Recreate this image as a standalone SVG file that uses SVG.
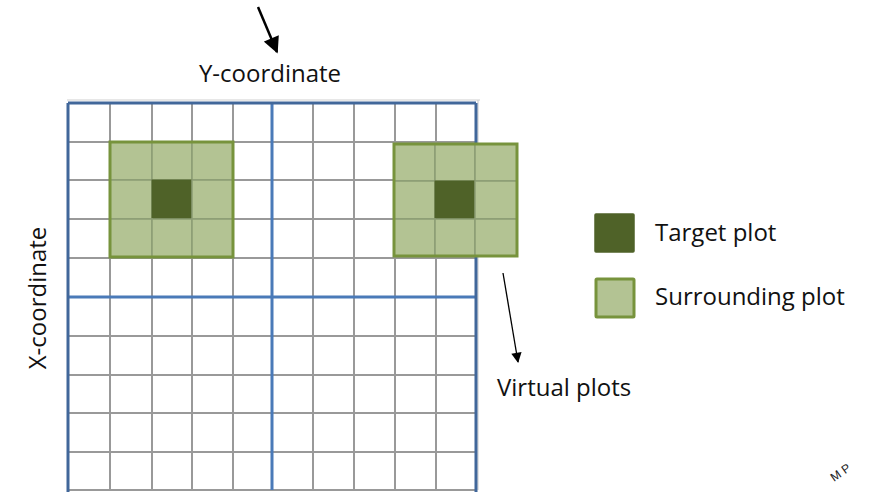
<svg xmlns="http://www.w3.org/2000/svg" width="871" height="492" viewBox="0 0 871 492">
<style>
  .g{stroke:#999;stroke-width:2;fill:none}
  .b{stroke:#4a7ab8;stroke-width:3;fill:none}
  .bo{stroke:#41679a;stroke-width:3;fill:none}
  .t{font-family:"Open Sans","Liberation Sans",sans-serif;font-size:24px;fill:#111}
  .sur{fill:#b3c393;stroke:#8c9d74;stroke-width:1.5}
  .tar{fill:#4f6228;stroke:#4f6228;stroke-width:1}
  .frame{fill:none;stroke:#77933c;stroke-width:3}
</style>
<defs>
  <marker id="ah" viewBox="0 0 10 10" refX="9" refY="5" markerWidth="7" markerHeight="6.5" orient="auto" markerUnits="strokeWidth">
    <path d="M0,0 L10,5 L0,10 z" fill="#000"/>
  </marker>
  <marker id="ah2" viewBox="0 0 10 10" refX="9" refY="5" markerWidth="9" markerHeight="8" orient="auto" markerUnits="strokeWidth">
    <path d="M0,0 L10,5 L0,10 z" fill="#000"/>
  </marker>
</defs>
<g id="grid">
  <path d="M67,100 H480 M478,100 V490" stroke="#d0d0d0" stroke-width="1.2" fill="none"/>
  <path class="g" d="M110,103 V490 M152,103 V490 M192,103 V490 M233,103 V490 M313,103 V490 M354,103 V490 M395,103 V490 M436,103 V490
  M68,142 H476 M68,180 H476 M68,219 H476 M68,258 H476 M68,336 H476 M68,375 H476 M68,413 H476 M68,452 H476 M68,490 H476"/>
  <path class="b" d="M272,103 V490 M68,297 H476"/>
  <path class="bo" d="M68,103 H476 M68,103 V492 M476,103 V492"/>
</g>
<g id="plot-left">
  <rect class="sur" x="110" y="142" width="42" height="38"/>
  <rect class="sur" x="152" y="142" width="40" height="38"/>
  <rect class="sur" x="192" y="142" width="41" height="38"/>
  <rect class="sur" x="110" y="180" width="42" height="39"/>
  <rect class="tar" x="152" y="180" width="40" height="39"/>
  <rect class="sur" x="192" y="180" width="41" height="39"/>
  <rect class="sur" x="110" y="219" width="42" height="38"/>
  <rect class="sur" x="152" y="219" width="40" height="38"/>
  <rect class="sur" x="192" y="219" width="41" height="38"/>
  <rect class="frame" x="110" y="142" width="123" height="115"/>
</g>
<g id="plot-right">
  <rect class="sur" x="394" y="144" width="41" height="37"/>
  <rect class="sur" x="435" y="144" width="40" height="37"/>
  <rect class="sur" x="475" y="144" width="42" height="37"/>
  <rect class="sur" x="394" y="181" width="41" height="38"/>
  <rect class="tar" x="435" y="181" width="40" height="38"/>
  <rect class="sur" x="475" y="181" width="42" height="38"/>
  <rect class="sur" x="394" y="219" width="41" height="37"/>
  <rect class="sur" x="435" y="219" width="40" height="37"/>
  <rect class="sur" x="475" y="219" width="42" height="37"/>
  <rect class="frame" x="394" y="144" width="123" height="112"/>
</g>
<g id="connectors">
  <line x1="258" y1="7" x2="277" y2="52" stroke="#000" stroke-width="2.5" marker-end="url(#ah)"/>
  <line x1="503" y1="273" x2="518" y2="362" stroke="#000" stroke-width="1.3" marker-end="url(#ah2)"/>
</g>
<g id="labels">
  <text class="t" x="270" y="82" text-anchor="middle">Y-coordinate</text>
  <text class="t" transform="translate(46,298) rotate(-90)" text-anchor="middle">X-coordinate</text>
  <text class="t" x="497" y="396">Virtual plots</text>
  <text transform="translate(834,482) rotate(-35)" font-family="Liberation Sans, sans-serif" font-size="12" fill="#222">M P</text>
</g>
<g id="legend">
  <rect x="595" y="214" width="39" height="38" fill="#4f6228" stroke="#4f6228" stroke-width="1.5" rx="1"/>
  <text class="t" x="655" y="241">Target plot</text>
  <rect x="596" y="279" width="38" height="38" fill="#b3c393" stroke="#77933c" stroke-width="3" rx="1"/>
  <text class="t" x="655" y="305">Surrounding plot</text>
</g>
</svg>
